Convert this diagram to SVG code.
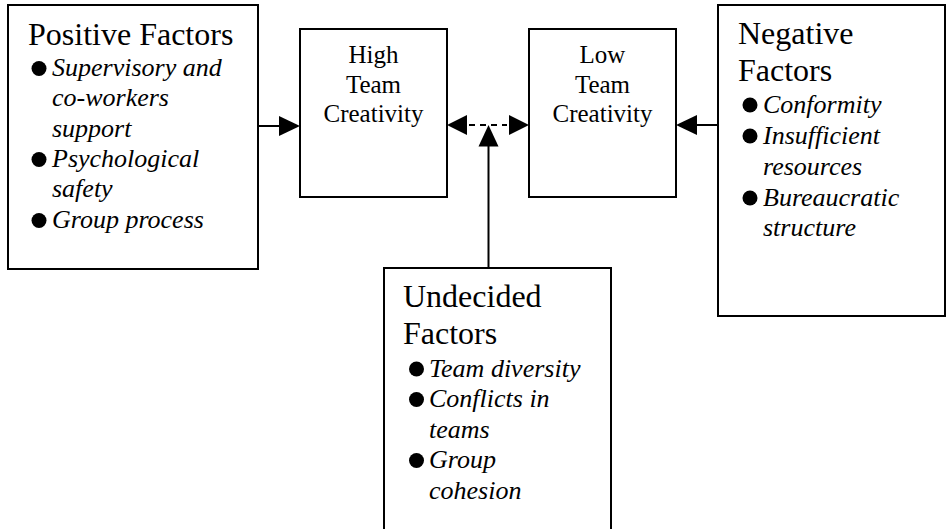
<svg xmlns="http://www.w3.org/2000/svg" width="947" height="529" viewBox="0 0 947 529">
<style>
.box{fill:#fff;stroke:#000;stroke-width:2}
.t{font-family:"Liberation Serif","Times New Roman",serif;fill:#000}
.title{font-size:32px}
.mid{font-size:25px;text-anchor:middle}
.it{font-size:26px;font-style:italic}
.line{stroke:#000;stroke-width:2;fill:none}
.dash{stroke:#000;stroke-width:2;fill:none;stroke-dasharray:6 5}
.head{fill:#000}
.dot{fill:#000}
</style>
<rect width="947" height="529" fill="#fff"/>
<g id="connectors">
<line class="line" x1="258" y1="126" x2="281" y2="126"/>
<polygon class="head" points="279,116 300,126 279,136"/>
<line class="line" x1="718" y1="125" x2="695" y2="125"/>
<polygon class="head" points="697,115 676,125 697,135"/>
<line class="dash" x1="469" y1="125" x2="507" y2="125"/>
<polygon class="head" points="467,115 447,125 467,135"/>
<polygon class="head" points="509,115 529,125 509,135"/>
<line class="line" x1="488.5" y1="268" x2="488.5" y2="145"/>
<polygon class="head" points="478.5,146.5 488.5,125 498.5,146.5"/>
</g>
<g id="positive">
<rect class="box" x="8" y="5" width="250" height="264"/>
<text class="t title" x="28" y="45">Positive Factors</text>
<circle class="dot" cx="39" cy="68.5" r="7.5"/>
<circle class="dot" cx="39" cy="159.5" r="7.5"/>
<circle class="dot" cx="39" cy="220.5" r="7.5"/>
<text class="t it" x="52" y="76">Supervisory and</text>
<text class="t it" x="52" y="106">co-workers</text>
<text class="t it" x="52" y="137">support</text>
<text class="t it" x="52" y="167">Psychological</text>
<text class="t it" x="52" y="197">safety</text>
<text class="t it" x="52" y="228">Group process</text>
</g>
<g id="high">
<rect class="box" x="300" y="29" width="147" height="168"/>
<text class="t mid" x="373.5" y="63">High</text>
<text class="t mid" x="373.5" y="92.5">Team</text>
<text class="t mid" x="373.5" y="121.5">Creativity</text>
</g>
<g id="low">
<rect class="box" x="529" y="29" width="147" height="168"/>
<text class="t mid" x="602.5" y="63">Low</text>
<text class="t mid" x="602.5" y="92.5">Team</text>
<text class="t mid" x="602.5" y="121.5">Creativity</text>
</g>
<g id="negative">
<rect class="box" x="718" y="5" width="227" height="311"/>
<text class="t title" x="738" y="44">Negative</text>
<text class="t title" x="738" y="81">Factors</text>
<circle class="dot" cx="750" cy="105" r="7.5"/>
<circle class="dot" cx="750" cy="136" r="7.5"/>
<circle class="dot" cx="750" cy="198" r="7.5"/>
<text class="t it" x="763" y="113">Conformity</text>
<text class="t it" x="763" y="144">Insufficient</text>
<text class="t it" x="763" y="175">resources</text>
<text class="t it" x="763" y="206">Bureaucratic</text>
<text class="t it" x="763" y="236">structure</text>
</g>
<g id="undecided">
<rect class="box" x="384" y="268" width="227" height="264"/>
<text class="t title" x="403" y="307">Undecided</text>
<text class="t title" x="403" y="343.5">Factors</text>
<circle class="dot" cx="416.5" cy="369" r="7.5"/>
<circle class="dot" cx="416.5" cy="399.5" r="7.5"/>
<circle class="dot" cx="416.5" cy="460.5" r="7.5"/>
<text class="t it" x="429" y="376.5">Team diversity</text>
<text class="t it" x="429" y="407">Conflicts in</text>
<text class="t it" x="429" y="437.5">teams</text>
<text class="t it" x="429" y="468">Group</text>
<text class="t it" x="429" y="499">cohesion</text>
</g>
</svg>
